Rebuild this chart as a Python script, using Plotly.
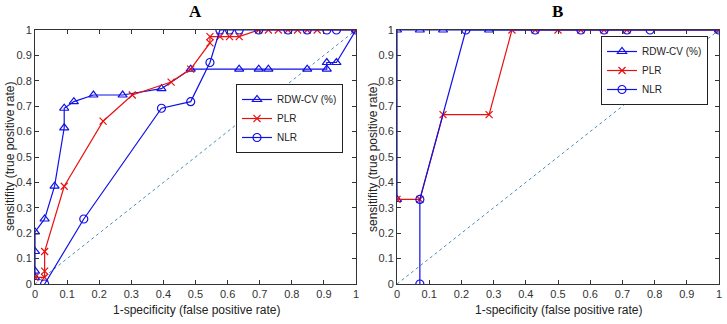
import plotly.graph_objects as go

# ---------------- Panel A data ----------------
a_rdw_x = [0, 0, 0, 0, 0.030, 0.061, 0.091, 0.091, 0.121, 0.182, 0.273, 0.394, 0.485, 0.636, 0.697, 0.727, 0.848, 0.909, 0.909, 0.939, 1.0]
a_rdw_y = [0.026, 0.051, 0.128, 0.205, 0.256, 0.385, 0.615, 0.692, 0.718, 0.744, 0.744, 0.769, 0.846, 0.846, 0.846, 0.846, 0.846, 0.846, 0.872, 0.872, 1.0]
a_plr_x = [0, 0.030, 0.030, 0.030, 0.091, 0.212, 0.303, 0.424, 0.485, 0.545, 0.545, 0.576, 0.606, 0.636, 0.697, 0.727, 0.758, 0.788, 0.818, 0.848, 0.879, 1.0]
a_plr_y = [0.026, 0.026, 0.051, 0.128, 0.385, 0.641, 0.744, 0.795, 0.846, 0.949, 0.974, 0.974, 0.974, 0.974, 1.0, 1.0, 1.0, 1.0, 1.0, 1.0, 1.0, 1.0]
a_nlr_x = [0.030, 0.152, 0.394, 0.485, 0.545, 0.576, 0.606, 0.636, 0.697, 0.788, 0.848, 0.909, 0.939, 1.0]
a_nlr_y = [0.0, 0.256, 0.692, 0.718, 0.872, 1.0, 1.0, 1.0, 1.0, 1.0, 1.0, 1.0, 1.0, 1.0]

# ---------------- Panel B data ----------------
b_rdw_x = [0, 0, 0.071, 0.143, 0.286, 1.0]
b_rdw_y = [0.333, 1.0, 1.0, 1.0, 1.0, 1.0]
b_plr_x = [0, 0.071, 0.143, 0.286, 0.357, 0.429, 0.5, 0.571, 0.643, 0.714, 1.0]
b_plr_y = [0.333, 0.333, 0.667, 0.667, 1.0, 1.0, 1.0, 1.0, 1.0, 1.0, 1.0]
b_nlr_x = [0.071, 0.071, 0.214, 0.429, 0.571, 0.643, 0.714, 0.786, 1.0]
b_nlr_y = [0.0, 0.333, 1.0, 1.0, 1.0, 1.0, 1.0, 1.0, 1.0]

diag = [0, 1]
ticks = [0, 0.1, 0.2, 0.3, 0.4, 0.5, 0.6, 0.7, 0.8, 0.9, 1]
tick_text = ["0", "0.1", "0.2", "0.3", "0.4", "0.5", "0.6", "0.7", "0.8", "0.9", "1"]

BLUE = "#1010e8"
RED = "#e81010"
DIAG = "#4a8fb5"
FONT = "Liberation Sans"

fig = go.Figure()

def add_panel(xa, ya, legend, rx, ry, px, py, nx, ny):
    fig.add_trace(go.Scatter(x=diag, y=diag, mode="lines", xaxis=xa, yaxis=ya,
                             line=dict(color=DIAG, width=1, dash="dot"), showlegend=False, hoverinfo="skip"))
    fig.add_trace(go.Scatter(x=rx, y=ry, mode="lines+markers", name="RDW-CV (%)", xaxis=xa, yaxis=ya, legend=legend,
                             line=dict(color=BLUE, width=1.2),
                             marker=dict(symbol="triangle-up-open", size=8, color=BLUE, line=dict(width=1.2))))
    fig.add_trace(go.Scatter(x=px, y=py, mode="lines+markers", name="PLR", xaxis=xa, yaxis=ya, legend=legend,
                             line=dict(color=RED, width=1.2),
                             marker=dict(symbol="x-thin-open", size=7, color=RED, line=dict(width=1.2, color=RED))))
    fig.add_trace(go.Scatter(x=nx, y=ny, mode="lines+markers", name="NLR", xaxis=xa, yaxis=ya, legend=legend,
                             line=dict(color=BLUE, width=1.2),
                             marker=dict(symbol="circle-open", size=8, color=BLUE, line=dict(width=1.2))))

add_panel("x", "y", "legend", a_rdw_x, a_rdw_y, a_plr_x, a_plr_y, a_nlr_x, a_nlr_y)
add_panel("x2", "y2", "legend2", b_rdw_x, b_rdw_y, b_plr_x, b_plr_y, b_nlr_x, b_nlr_y)

W, H = 727, 324
y_dom = [1 - 284 / H, 1 - 30 / H]

axis_common = dict(range=[0, 1], tickvals=ticks, ticktext=tick_text, ticks="inside", ticklen=4,
                   tickcolor="#333", showline=True, linecolor="#333", linewidth=1, mirror="ticks",
                   showgrid=False, zeroline=False, automargin=False,
                   tickfont=dict(family=FONT, size=11, color="#333"))

leg_common = dict(bgcolor="white", bordercolor="#222", borderwidth=1,
                  font=dict(family=FONT, size=10, color="#222"), tracegroupgap=0, itemwidth=30)

fig.update_layout(
    width=W, height=H, margin=dict(l=0, r=0, t=0, b=0, autoexpand=False),
    plot_bgcolor="white", paper_bgcolor="white",
    font=dict(family=FONT, size=11, color="#222"),
    xaxis=dict(domain=[35 / W, 356 / W], anchor="y", **axis_common),
    yaxis=dict(domain=y_dom, anchor="x", **axis_common),
    xaxis2=dict(domain=[397 / W, 719 / W], anchor="y2", **axis_common),
    yaxis2=dict(domain=y_dom, anchor="x2", **axis_common),
    legend=dict(x=343 / W, y=1 - 84 / H, xanchor="right", yanchor="top", **leg_common),
    legend2=dict(x=708 / W, y=1 - 36 / H, xanchor="right", yanchor="top", **leg_common),
    showlegend=True,
)

annots = [
    dict(text="<b>A</b>", x=195 / W, y=1 - 12 / H, font=dict(family="Liberation Serif", size=17, color="black")),
    dict(text="<b>B</b>", x=557 / W, y=1 - 12 / H, font=dict(family="Liberation Serif", size=17, color="black")),
    dict(text="1-specificity (false positive rate)", x=196 / W, y=1 - 310 / H, font=dict(family=FONT, size=12, color="#222")),
    dict(text="1-specificity (false positive rate)", x=558 / W, y=1 - 310 / H, font=dict(family=FONT, size=12, color="#222")),
    dict(text="sensitifity (true positive rate)", x=10 / W, y=1 - 157 / H, textangle=-90, font=dict(family=FONT, size=12, color="#222")),
    dict(text="sensitifity (true positive rate)", x=373 / W, y=1 - 157 / H, textangle=-90, font=dict(family=FONT, size=12, color="#222")),
]
for a in annots:
    fig.add_annotation(xref="paper", yref="paper", showarrow=False, xanchor="center", yanchor="middle", **a)

fig.write_html("out.html", config={"displayModeBar": False},
               post_script="document.body.style.margin='0';document.body.style.padding='0';")
